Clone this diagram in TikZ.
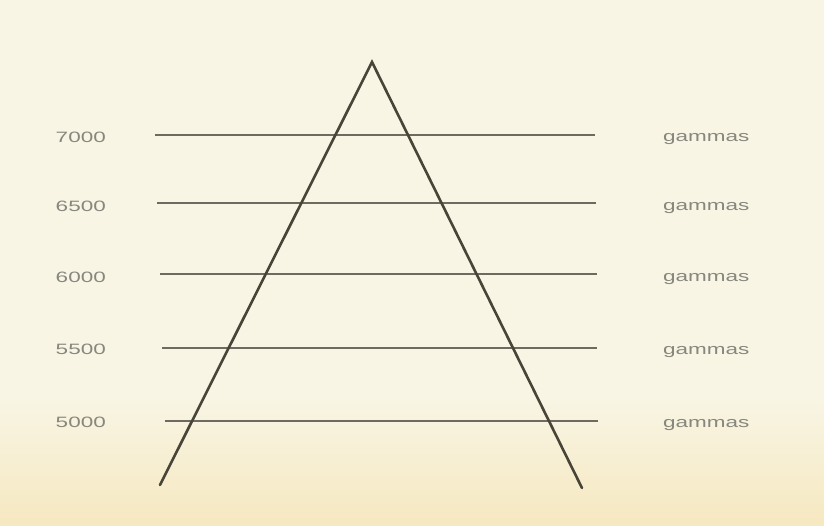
\documentclass[tikz,border=0pt]{standalone}
\usepackage{fontspec}
\setmainfont{Liberation Sans}
\definecolor{bgtop}{RGB}{248,245,228}
\definecolor{bgbot}{RGB}{246,232,192}
\definecolor{lbl}{RGB}{135,135,125}
\definecolor{hline}{RGB}{110,106,96}
\definecolor{tri}{RGB}{72,68,56}
\newcommand{\wide}[1]{\scalebox{1.5}[1]{#1}}
\begin{document}
\begin{tikzpicture}[x=1pt,y=-1pt,
  hl/.style={draw=hline,line width=1.3pt},
  side/.style={draw=tri,line width=2.6pt,line cap=round,line join=miter},
  lefttxt/.style={text=lbl,font=\fontsize{15}{15}\selectfont,anchor=east,inner sep=0pt},
  righttxt/.style={text=lbl,font=\fontsize{15}{15}\selectfont,anchor=base west,inner sep=0pt}]
\useasboundingbox (0,0) rectangle (824,526);
\fill[bgtop] (0,0) rectangle (824,526);
\shade[top color=bgtop,bottom color=bgbot] (0,400) rectangle (824,526);
% pyramid
\coordinate (apex) at (372,62);
\coordinate (bl) at (160,485);
\coordinate (br) at (582,488);
% horizontal lines
\foreach \n/\y/\xa/\xb in {a/135/155/595, b/203/157/596, c/274/160/597, d/348/162/597, e/421/165/598}{
  \coordinate (\n L) at (\xa,\y);
  \coordinate (\n R) at (\xb,\y);
  \draw[hl] (\n L) -- (\n R);
}
\draw[side] (bl) -- (apex) -- (br);
% labels
\node[lefttxt] (la) at (106,137) {\wide{7000}};
\node[lefttxt] (lb) at (106,206) {\wide{6500}};
\node[lefttxt] (lc) at (106,277) {\wide{6000}};
\node[lefttxt] (ld) at (106,349) {\wide{5500}};
\node[lefttxt] (le) at (106,422) {\wide{5000}};
\node[righttxt] (ra) at (663,142) {\wide{gammas}};
\node[righttxt] (rb) at (663,211) {\wide{gammas}};
\node[righttxt] (rc) at (663,282) {\wide{gammas}};
\node[righttxt] (rd) at (663,354) {\wide{gammas}};
\node[righttxt] (re) at (663,427) {\wide{gammas}};
\end{tikzpicture}
\end{document}
